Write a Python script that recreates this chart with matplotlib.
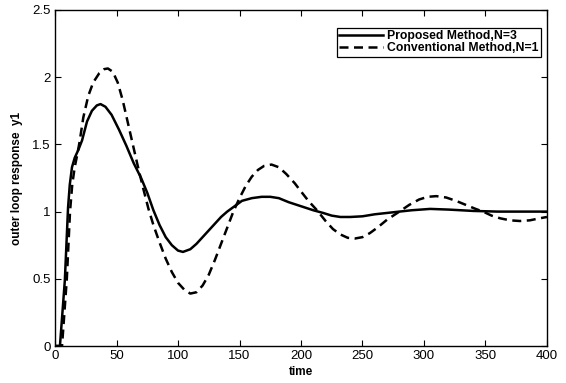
import matplotlib
matplotlib.use("Agg")
import matplotlib.pyplot as plt

# values
t_proposed = [0, 4, 8, 10.6, 12, 13.8, 16, 19, 22, 26, 30, 34, 37, 41, 46, 52, 58, 64,
              70, 75, 80, 85, 90, 95, 100, 104, 110, 115, 120, 125, 130, 135, 140, 146,
              152, 160, 168, 175, 182, 190, 200, 210, 218, 225, 232, 240, 250, 260, 270,
              280, 290, 305, 320, 340, 360, 380, 400]
y_proposed = [0, 0, 0.49, 1.03, 1.2, 1.33, 1.40, 1.46, 1.53, 1.67, 1.75, 1.79, 1.80, 1.78,
              1.72, 1.61, 1.49, 1.36, 1.25, 1.14, 1.01, 0.90, 0.81, 0.75, 0.71, 0.70, 0.72,
              0.76, 0.81, 0.86, 0.91, 0.96, 1.00, 1.04, 1.08, 1.10, 1.11, 1.11, 1.10, 1.07,
              1.04, 1.01, 0.99, 0.97, 0.96, 0.96, 0.965, 0.98, 0.99, 1.00, 1.01, 1.02,
              1.015, 1.005, 1.0, 1.0, 1.0]

t_conventional = [0, 5.7, 9.6, 12.2, 14, 16, 18, 20, 23, 27, 31, 36, 40, 43, 47, 51, 55, 59,
                  63.5, 67, 71.5, 76, 80, 85, 90, 95, 100, 105, 110, 115, 120, 125, 130,
                  135, 140, 145, 150, 155, 160, 165, 170, 176, 182, 188, 195, 200, 206, 213,
                  220, 226, 232, 238, 244, 250, 256, 262, 270, 280, 288, 296, 303, 310, 318,
                  326, 334, 342, 348, 355, 362, 370, 378, 386, 394, 400]
y_conventional = [0, 0, 0.5, 1.0, 1.2, 1.33, 1.42, 1.52, 1.70, 1.86, 1.96, 2.03, 2.06, 2.065,
                  2.04, 1.96, 1.83, 1.67, 1.49, 1.35, 1.18, 1.02, 0.90, 0.77, 0.65, 0.55,
                  0.47, 0.42, 0.39, 0.40, 0.45, 0.53, 0.64, 0.76, 0.88, 1.00, 1.10, 1.19,
                  1.26, 1.31, 1.34, 1.35, 1.33, 1.28, 1.21, 1.15, 1.08, 1.01, 0.93, 0.87,
                  0.83, 0.805, 0.80, 0.81, 0.84, 0.88, 0.94, 1.00, 1.05, 1.09, 1.11, 1.115,
                  1.105, 1.08, 1.05, 1.02, 1.0, 0.97, 0.95, 0.935, 0.93, 0.935, 0.95, 0.96]

x_ticks = [0, 50, 100, 150, 200, 250, 300, 350, 400]
y_ticks = [0, 0.5, 1, 1.5, 2, 2.5]
y_tick_labels = ["0", "0.5", "1", "1.5", "2", "2.5"]


def main():
    plt.rcParams["font.family"] = ["Liberation Sans", "DejaVu Sans"]

    fig = plt.figure(figsize=(5.66, 3.83), dpi=100)
    ax = fig.add_axes([0.0972, 0.0966, 0.8692, 0.8773])

    ax.plot(t_proposed, y_proposed, color="black", linewidth=1.8,
            label="Proposed Method,N=3")
    ax.plot(t_conventional, y_conventional, color="black", linewidth=1.8,
            linestyle=(0, (3.6, 2.2)), label="Conventional Method,N=1")

    ax.set_xlim(0, 400)
    ax.set_ylim(0, 2.5)
    ax.set_xticks(x_ticks)
    ax.set_yticks(y_ticks)
    ax.set_yticklabels(y_tick_labels)
    ax.tick_params(direction="in", top=True, right=True, length=4, width=0.8,
                   labelsize=9.5, pad=3)
    for s in ax.spines.values():
        s.set_linewidth(1.0)

    ax.set_xlabel("time", fontsize=8.5, fontweight="bold", labelpad=3)
    ax.set_ylabel("outer loop response  y1", fontsize=8.5, fontweight="bold", labelpad=7)

    leg = ax.legend(loc="upper right", bbox_to_anchor=(0.9878, 0.9464), borderaxespad=0,
                    fancybox=False, framealpha=1, edgecolor="black",
                    prop={"size": 8.8, "weight": "bold"}, handlelength=3.6,
                    handletextpad=0.3, labelspacing=0.0, borderpad=0.2)
    leg.get_frame().set_linewidth(0.9)

    fig.savefig("out.png", dpi=100)


if __name__ == "__main__":
    main()
